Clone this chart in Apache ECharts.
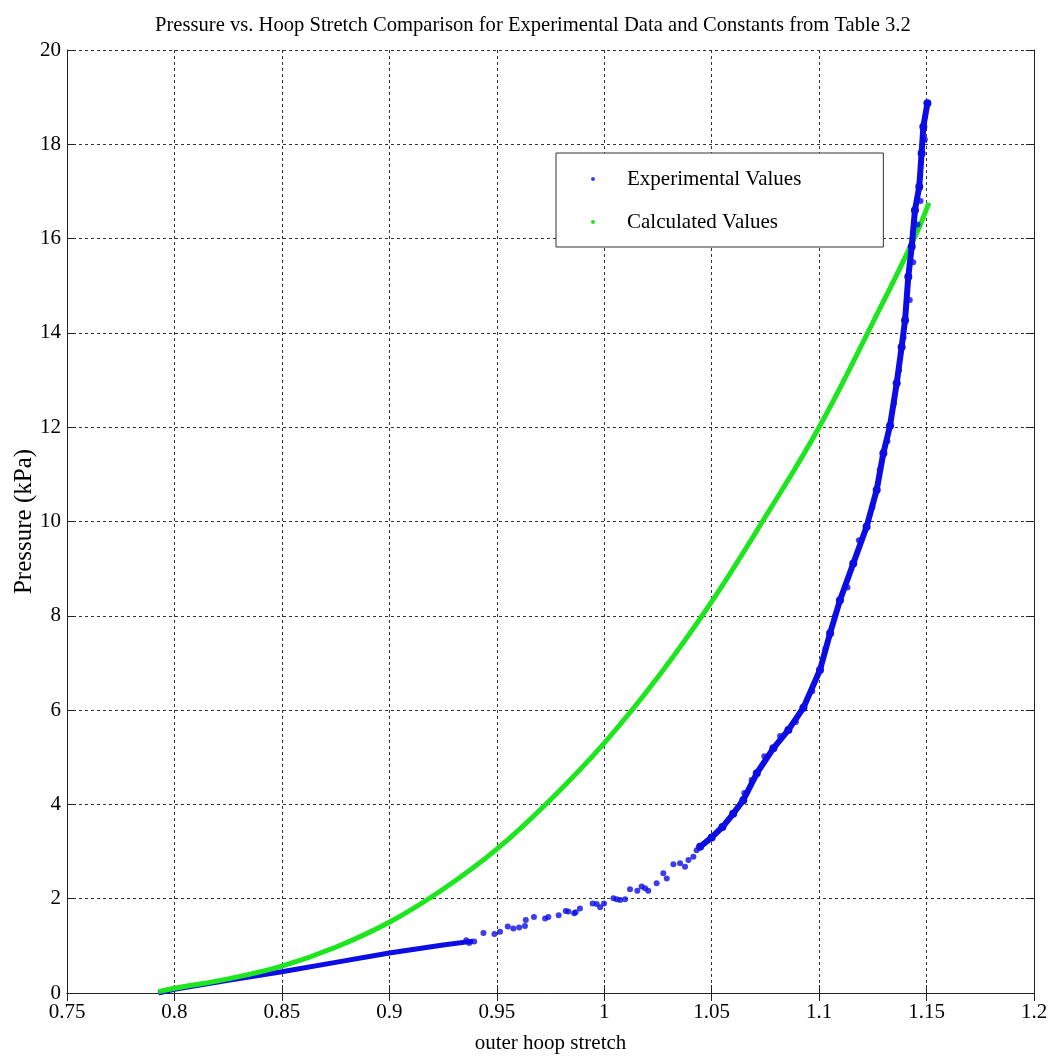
<!DOCTYPE html>
<html>
<head>
<meta charset="utf-8">
<script src="https://cdn.jsdelivr.net/npm/echarts@6/dist/echarts.min.js"></script>
<style>
  html, body { margin: 0; padding: 0; background: #fff; }
  #chart { width: 1055px; height: 1061px; }
</style>
</head>
<body>
<div id="chart"></div>
<script>
// calculated curve (constants from table 3.2)
const calcStretch = [0.7925, 0.8, 0.825, 0.85, 0.875, 0.9, 0.925, 0.95, 0.975, 1.0, 1.025, 1.05, 1.075, 1.1, 1.125, 1.1442, 1.1511];
const calcPressure = [0.03, 0.1, 0.3, 0.57, 0.97, 1.5, 2.2, 3.05, 4.1, 5.3, 6.7, 8.3, 10.1, 12.0, 14.22, 16.0, 16.76];

// experimental: dense low-pressure part
const expLowStretch = [0.7925, 0.8, 0.825, 0.85, 0.875, 0.9, 0.925, 0.939];
const expLowPressure = [0.0, 0.08, 0.27, 0.45, 0.65, 0.85, 1.02, 1.1];

// experimental: sparse middle part + scatter round the steep part
const expMidStretch = [0.9358, 0.9372, 0.9395, 0.9438, 0.9489, 0.9515, 0.9551, 0.9577, 0.9604, 0.9631, 0.9635, 0.9673, 0.9725, 0.974,
  0.9788, 0.9821, 0.9833, 0.986, 0.9867, 0.9887, 0.9946, 0.9965, 0.9981, 0.9999, 1.0043, 1.0058, 1.0074, 1.0097, 1.012, 1.0154,
  1.0174, 1.019, 1.0205, 1.0244, 1.0275, 1.0291, 1.0322, 1.0353, 1.0376, 1.0392, 1.0415, 1.043,
  1.0652, 1.0686, 1.0745, 1.0818, 1.0892, 1.0968, 1.1029, 1.1075, 1.1132, 1.1185, 1.1248, 1.1282, 1.1318, 1.1348, 1.1372,
  1.1393, 1.1422, 1.1438, 1.1458, 1.1472, 1.1492];
const expMidPressure = [1.12, 1.06, 1.09, 1.27, 1.25, 1.3, 1.41, 1.37, 1.39, 1.42, 1.55, 1.61, 1.58, 1.61,
  1.65, 1.74, 1.73, 1.69, 1.71, 1.79, 1.9, 1.89, 1.82, 1.9, 2.01, 1.99, 1.97, 1.99, 2.2, 2.17,
  2.26, 2.22, 2.17, 2.33, 2.54, 2.43, 2.73, 2.75, 2.68, 2.82, 2.89, 3.03,
  4.24, 4.52, 5.02, 5.45, 5.75, 6.4, 7.3, 8.0, 8.6, 9.6, 10.3, 11.1, 11.7, 12.5, 13.2,
  13.9, 14.7, 15.5, 16.3, 16.8, 18.1];

// experimental: dense steep part
const expHighStretch = [1.0446, 1.05, 1.055, 1.06, 1.0647, 1.071, 1.0787, 1.0857, 1.0927, 1.1004, 1.1051, 1.1097, 1.1159, 1.1221,
  1.1268, 1.1299, 1.133, 1.1361, 1.1384, 1.14, 1.1415, 1.1431, 1.1446, 1.1466, 1.1477, 1.1485, 1.1504];
const expHighPressure = [3.1, 3.3, 3.52, 3.8, 4.09, 4.66, 5.19, 5.58, 6.05, 6.85, 7.63, 8.33, 9.11, 9.89,
  10.67, 11.45, 12.03, 12.93, 13.7, 14.27, 15.19, 15.83, 16.6, 17.1, 17.81, 18.37, 18.87];

const blue = "#0c0ce4";
const green = "#1ee61e";
const font = "Liberation Serif";

function pairs(xs, ys) {
  return xs.map((x, i) => [x, ys[i]]);
}

const gridLine = { show: true, lineStyle: { type: [3, 3], color: "#333", width: 1 } };
const axisLine = { show: true, lineStyle: { color: "#222", width: 1 } };
const axisTick = { show: true, inside: true, length: 8, lineStyle: { color: "#222" } };

const option = {
  animation: false,
  backgroundColor: "#fff",
  textStyle: { fontFamily: font, color: "#000" },
  title: {
    text: "Pressure vs. Hoop Stretch Comparison for Experimental Data and Constants from Table 3.2",
    left: 150,
    top: 10,
    textStyle: { fontFamily: font, fontSize: 20.6, fontWeight: "normal", color: "#000" },
  },
  grid: { left: 67, right: 21, top: 50, bottom: 68, outerBoundsMode: "none" },
  legend: {
    orient: "vertical",
    left: 556,
    top: 153,
    padding: [14, 82, 13, 35],
    itemGap: 19,
    itemWidth: 58,
    itemHeight: 4,
    selectedMode: false,
    backgroundColor: "#fff",
    borderColor: "#333",
    borderWidth: 1,
    itemStyle: { borderWidth: 0 },
    textStyle: { fontFamily: font, fontSize: 21, lineHeight: 24, color: "#000" },
    data: [
      { name: "Experimental Values", icon: "circle" },
      { name: "Calculated Values", icon: "circle" },
    ],
  },
  xAxis: [
    {
      type: "value",
      min: 0.75,
      max: 1.2,
      interval: 0.05,
      name: "outer hoop stretch",
      nameLocation: "middle",
      nameGap: 40,
      nameTextStyle: { fontFamily: font, fontSize: 21, color: "#000" },
      axisLine: axisLine,
      axisTick: axisTick,
      axisLabel: {
        fontFamily: font,
        fontSize: 21,
        color: "#000",
        margin: 9,
        formatter: (v) => String(+v.toFixed(2)),
      },
      splitLine: gridLine,
    },
    {
      type: "value",
      position: "top",
      min: 0.75,
      max: 1.2,
      interval: 0.05,
      axisLine: axisLine,
      axisTick: axisTick,
      axisLabel: { show: false },
      splitLine: { show: false },
    },
  ],
  yAxis: [
    {
      type: "value",
      min: 0,
      max: 20,
      interval: 2,
      name: "Pressure (kPa)",
      nameLocation: "middle",
      nameGap: 30,
      nameMoveOverlap: false,
      nameTextStyle: { fontFamily: font, fontSize: 25, color: "#000" },
      axisLine: axisLine,
      axisTick: axisTick,
      axisLabel: { fontFamily: font, fontSize: 21, color: "#000", margin: 6 },
      splitLine: gridLine,
    },
    {
      type: "value",
      position: "right",
      min: 0,
      max: 20,
      interval: 2,
      axisLine: axisLine,
      axisTick: axisTick,
      axisLabel: { show: false },
      splitLine: { show: false },
    },
  ],
  series: [
    {
      name: "Experimental Values",
      type: "scatter",
      symbol: "circle",
      symbolSize: 6,
      itemStyle: { color: blue },
      data: pairs(expMidStretch, expMidPressure),
      z: 4,
    },
    {
      name: "Experimental Values",
      type: "line",
      showSymbol: false,
      itemStyle: { color: blue },
      lineStyle: { color: blue, width: 5 },
      data: pairs(expLowStretch, expLowPressure),
      z: 2,
    },
    {
      name: "Calculated Values",
      type: "line",
      smooth: 0.4,
      showSymbol: false,
      itemStyle: { color: green },
      lineStyle: { color: green, width: 5 },
      data: pairs(calcStretch, calcPressure),
      z: 3,
    },
    {
      name: "Experimental Values",
      type: "line",
      showSymbol: true,
      symbol: "circle",
      symbolSize: 8,
      itemStyle: { color: blue, borderWidth: 0 },
      lineStyle: { color: blue, width: 6 },
      data: pairs(expHighStretch, expHighPressure),
      z: 4,
    },
  ],
};

const dom = document.getElementById("chart");
echarts.init(dom, null, { renderer: "canvas" }).setOption(option);
</script>
</body>
</html>
